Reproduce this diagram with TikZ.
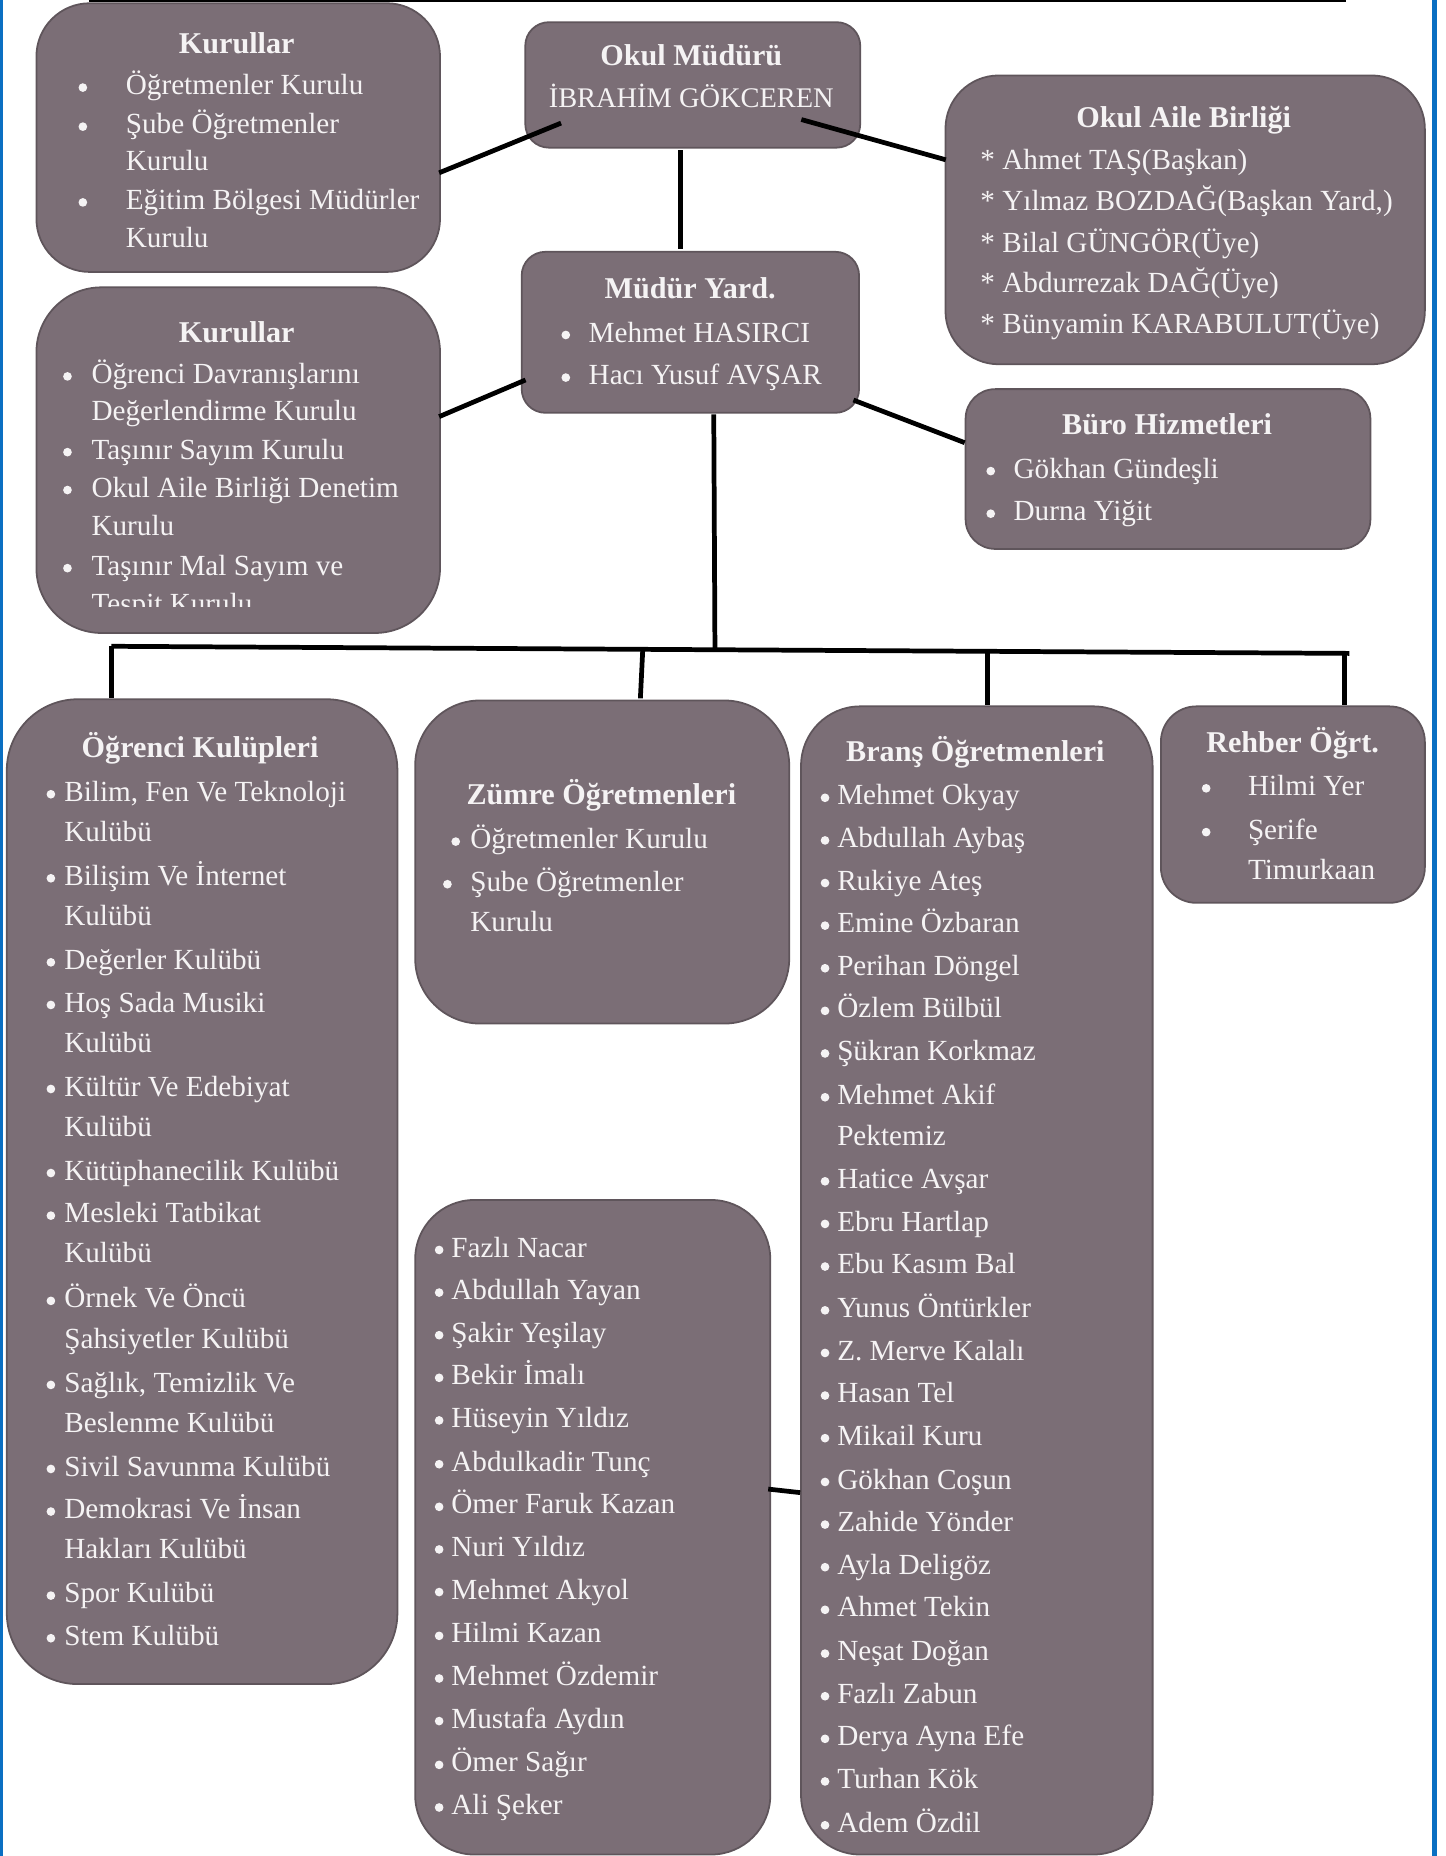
\documentclass[tikz,border=0pt]{standalone}
\usepackage{fontspec}
\setmainfont{Liberation Serif}
\definecolor{boxfill}{HTML}{7B6E76}
\definecolor{boxline}{HTML}{5F555B}
\definecolor{txtcol}{HTML}{F5F3F4}
\definecolor{frameblue}{HTML}{0A6FC2}
\newcounter{lin}
\newcommand\obox[7]{\node[orgbox, rounded corners=#6, minimum width=#4, minimum height=#5] (#1) at (#2,#3) {};}
\newcommand\itm[3]{\stepcounter{lin}\node[itm] (L\arabic{lin}) at (#1,#2+8) {#3};}
\newcommand\bl[2]{\stepcounter{lin}\node[bul] (B\arabic{lin}) at (#1,#2+2) {};}
\newcommand\ttl[4]{\node[ttl] (#1) at (#2,#3+8) {#4};}
\begin{document}
\begin{tikzpicture}[x=0.6pt,y=-0.6pt,
  orgbox/.style={draw=boxline, line width=0.9pt, fill=boxfill, inner sep=0pt, anchor=north west},
  itm/.style={text=txtcol, font=\fontsize{14.8}{17}\selectfont, inner sep=0pt, anchor=base west},
  bul/.style={circle, fill=txtcol, inner sep=0pt, minimum size=4.4pt},
  ttl/.style={text=txtcol, font=\fontsize{15.3}{17}\selectfont\bfseries, inner sep=0pt, anchor=base},
  ctr/.style={text=txtcol, font=\fontsize{14.4}{17}\selectfont, inner sep=0pt, anchor=base},
  conn/.style={line width=2.4pt, black}]
\useasboundingbox (0,0) rectangle (1221,1568);
% frame lines
\coordinate (fl1) at (1,0); \coordinate (fl2) at (1,1568);
\coordinate (fr1) at (1212,0); \coordinate (fr2) at (1212,1568);
\coordinate (ft1) at (75,1); \coordinate (ft2) at (1137,1);
\draw[frameblue, line width=1.8pt] (fl1) -- (fl2);
\draw[frameblue, line width=2.2pt] (fr1) -- (fr2);
\draw[black, line width=1.2pt] (ft1) -- (ft2);

% boxes
\obox{kur1}{30}{2}{204.6pt}{136.2pt}{27pt}{}
\obox{okul}{443}{18}{169.8pt}{63.6pt}{12pt}{}
\obox{aile}{798}{63}{243pt}{146.4pt}{27pt}{}
\obox{myrd}{440}{212}{171pt}{81.6pt}{12pt}{}
\obox{kur2}{30}{242}{204.6pt}{175.2pt}{33pt}{}
\obox{buro}{815}{328}{205.2pt}{81pt}{15pt}{}
\obox{ogr}{5}{590}{198pt}{499.2pt}{36pt}{}
\obox{zumre}{350}{591}{189.6pt}{163.8pt}{33pt}{}
\obox{fazli}{350}{1013}{180pt}{331.8pt}{30pt}{}
\obox{brans}{676}{596}{178.2pt}{582pt}{30pt}{}
\obox{rehber}{980}{596}{133.8pt}{99.6pt}{18pt}{}

% connectors
\coordinate (a1) at (474,104); \coordinate (a2) at (371,146);
\coordinate (b1) at (677,101); \coordinate (b2) at (799,135);
\coordinate (v1) at (575,127); \coordinate (v2) at (575,210);
\coordinate (d1) at (444,321); \coordinate (d2) at (371,352);
\coordinate (e1) at (721,338); \coordinate (e2) at (815,374);
\coordinate (m1) at (603,350); \coordinate (m2) at (604,548);
\coordinate (busL) at (94,546); \coordinate (busR) at (1140,552);
\coordinate (p1) at (94,546); \coordinate (p2) at (94,590);
\coordinate (q1) at (543,549); \coordinate (q2) at (541,590);
\coordinate (r1) at (834,550); \coordinate (r2) at (834,596);
\coordinate (s1) at (1136,552); \coordinate (s2) at (1136,596);
\coordinate (f1) at (649,1258); \coordinate (f2) at (676,1261);
\draw[conn] (a1) -- (a2);
\draw[conn] (b1) -- (b2);
\draw[conn] (v1) -- (v2);
\draw[conn] (d1) -- (d2);
\draw[conn] (e1) -- (e2);
\draw[conn] (m1) -- (m2);
\draw[conn] (busL) -- (busR);
\draw[conn] (p1) -- (p2);
\draw[conn] (q1) -- (q2);
\draw[conn] (r1) -- (r2);
\draw[conn] (s1) -- (s2);
\draw[conn] (f1) -- (f2);

% Kurullar 1
\ttl{tk1}{200}{37}{Kurullar}
\bl{70}{72}\itm{106}{72}{Öğretmenler Kurulu}
\bl{70}{105}\itm{106}{105}{Şube Öğretmenler}
\itm{106}{136}{Kurulu}
\bl{70}{169}\itm{106}{169}{Eğitim Bölgesi Müdürler}
\itm{106}{201}{Kurulu}

% Okul Müdürü
\ttl{tokul}{584}{47}{Okul Müdürü}
\node[ctr] (okulname) at (584,83+8) {İBRAHİM GÖKCEREN};

% Okul Aile Birliği
\ttl{taile}{1000}{100}{Okul Aile Birliği}
\itm{828}{135}{* Ahmet TAŞ(Başkan)}
\itm{828}{170}{* Yılmaz BOZDAĞ(Başkan Yard,)}
\itm{828}{205}{* Bilal GÜNGÖR(Üye)}
\itm{828}{239}{* Abdurrezak DAĞ(Üye)}
\itm{828}{274}{* Bünyamin KARABULUT(Üye)}

% Müdür Yard.
\ttl{tmyrd}{583}{244}{Müdür Yard.}
\bl{478}{281}\itm{497}{281}{Mehmet HASIRCI}
\bl{478}{317}\itm{497}{317}{Hacı Yusuf AVŞAR}

% Kurullar 2
\ttl{tk2}{200}{281}{Kurullar}
\begin{scope}
\clip (30,242) rectangle (371,512);
\bl{57}{316}\itm{77}{316}{Öğrenci Davranışlarını}
\itm{77}{347}{Değerlendirme Kurulu}
\bl{57}{380}\itm{77}{380}{Taşınır Sayım Kurulu}
\bl{57}{412}\itm{77}{412}{Okul Aile Birliği Denetim}
\itm{77}{444}{Kurulu}
\bl{57}{478}\itm{77}{478}{Taşınır Mal Sayım ve}
\itm{77}{510}{Tespit Kurulu}
\end{scope}

% Büro Hizmetleri
\ttl{tburo}{986}{359}{Büro Hizmetleri}
\bl{837}{396}\itm{856}{396}{Gökhan Gündeşli}
\bl{837}{432}\itm{856}{432}{Durna Yiğit}

% Öğrenci Kulüpleri
\ttl{togr}{169}{632}{Öğrenci Kulüpleri}
\bl{43}{669}\itm{54}{669}{Bilim, Fen Ve Teknoloji}
\itm{54}{703}{Kulübü}
\bl{43}{740}\itm{54}{740}{Bilişim Ve İnternet}
\itm{54}{774}{Kulübü}
\bl{43}{811}\itm{54}{811}{Değerler Kulübü}
\bl{43}{847}\itm{54}{847}{Hoş Sada Musiki}
\itm{54}{881}{Kulübü}
\bl{43}{918}\itm{54}{918}{Kültür Ve Edebiyat}
\itm{54}{952}{Kulübü}
\bl{43}{989}\itm{54}{989}{Kütüphanecilik Kulübü}
\bl{43}{1025}\itm{54}{1025}{Mesleki Tatbikat}
\itm{54}{1059}{Kulübü}
\bl{43}{1097}\itm{54}{1097}{Örnek Ve Öncü}
\itm{54}{1131}{Şahsiyetler Kulübü}
\bl{43}{1168}\itm{54}{1168}{Sağlık, Temizlik Ve}
\itm{54}{1202}{Beslenme Kulübü}
\bl{43}{1239}\itm{54}{1239}{Sivil Savunma Kulübü}
\bl{43}{1275}\itm{54}{1275}{Demokrasi Ve İnsan}
\itm{54}{1309}{Hakları Kulübü}
\bl{43}{1346}\itm{54}{1346}{Spor Kulübü}
\bl{43}{1382}\itm{54}{1382}{Stem Kulübü}

% Zümre Öğretmenleri
\ttl{tzumre}{508}{672}{Zümre Öğretmenleri}
\bl{385}{709}\itm{397}{709}{Öğretmenler Kurulu}
\bl{378}{745}\itm{397}{745}{Şube Öğretmenler}
\itm{397}{779}{Kurulu}

% Fazlı box
\bl{371}{1054}\itm{381}{1054}{Fazlı Nacar}
\bl{371}{1090}\itm{381}{1090}{Abdullah Yayan}
\bl{371}{1126}\itm{381}{1126}{Şakir Yeşilay}
\bl{371}{1162}\itm{381}{1162}{Bekir İmalı}
\bl{371}{1198}\itm{381}{1198}{Hüseyin Yıldız}
\bl{371}{1235}\itm{381}{1235}{Abdulkadir Tunç}
\bl{371}{1271}\itm{381}{1271}{Ömer Faruk Kazan}
\bl{371}{1307}\itm{381}{1307}{Nuri Yıldız}
\bl{371}{1343}\itm{381}{1343}{Mehmet Akyol}
\bl{371}{1380}\itm{381}{1380}{Hilmi Kazan}
\bl{371}{1416}\itm{381}{1416}{Mehmet Özdemir}
\bl{371}{1452}\itm{381}{1452}{Mustafa Aydın}
\bl{371}{1489}\itm{381}{1489}{Ömer Sağır}
\bl{371}{1525}\itm{381}{1525}{Ali Şeker}

% Branş Öğretmenleri
\ttl{tbrans}{824}{635}{Branş Öğretmenleri}
\bl{697}{672}\itm{707}{672}{Mehmet Okyay}
\bl{697}{708}\itm{707}{708}{Abdullah Aybaş}
\bl{697}{744}\itm{707}{744}{Rukiye Ateş}
\bl{697}{780}\itm{707}{780}{Emine Özbaran}
\bl{697}{816}\itm{707}{816}{Perihan Döngel}
\bl{697}{852}\itm{707}{852}{Özlem Bülbül}
\bl{697}{888}\itm{707}{888}{Şükran Korkmaz}
\bl{697}{925}\itm{707}{925}{Mehmet Akif}
\itm{707}{960}{Pektemiz}
\bl{697}{996}\itm{707}{996}{Hatice Avşar}
\bl{697}{1032}\itm{707}{1032}{Ebru Hartlap}
\bl{697}{1068}\itm{707}{1068}{Ebu Kasım Bal}
\bl{697}{1105}\itm{707}{1105}{Yunus Öntürkler}
\bl{697}{1141}\itm{707}{1141}{Z. Merve Kalalı}
\bl{697}{1177}\itm{707}{1177}{Hasan Tel}
\bl{697}{1213}\itm{707}{1213}{Mikail Kuru}
\bl{697}{1250}\itm{707}{1250}{Gökhan Coşun}
\bl{697}{1286}\itm{707}{1286}{Zahide Yönder}
\bl{697}{1322}\itm{707}{1322}{Ayla Deligöz}
\bl{697}{1358}\itm{707}{1358}{Ahmet Tekin}
\bl{697}{1395}\itm{707}{1395}{Neşat Doğan}
\bl{697}{1431}\itm{707}{1431}{Fazlı Zabun}
\bl{697}{1467}\itm{707}{1467}{Derya Ayna Efe}
\bl{697}{1503}\itm{707}{1503}{Turhan Kök}
\bl{697}{1540}\itm{707}{1540}{Adem Özdil}

% Rehber Öğrt.
\ttl{trehber}{1092}{628}{Rehber Öğrt.}
\bl{1019}{664}\itm{1054}{664}{Hilmi Yer}
\bl{1019}{701}\itm{1054}{701}{Şerife}
\itm{1054}{735}{Timurkaan}
\end{tikzpicture}
\end{document}
